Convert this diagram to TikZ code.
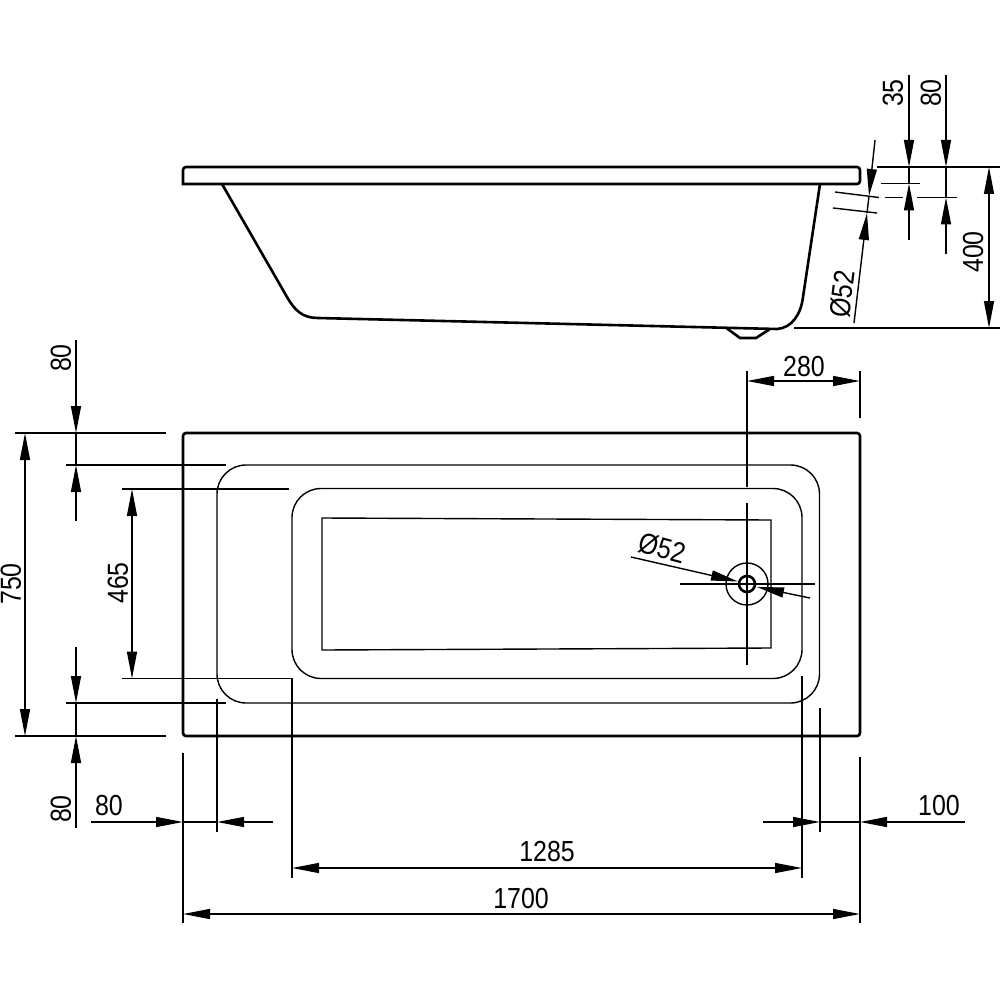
\documentclass[tikz,border=0pt]{standalone}
\usepackage{fontspec}
\setmainfont{Liberation Sans}
\usetikzlibrary{arrows.meta}
\tikzset{
  outline/.style={line width=1.3pt,rounded corners=1.5pt},
  edgeline/.style={line width=0.7pt},
  dimline/.style={line width=0.7pt,>={Triangle[length=13.5pt,width=5pt]}},
  dimlabel/.style={inner sep=0pt,font=\fontsize{14.5pt}{15pt}\selectfont,rotate=#1,xscale=0.86},
  dimlabel/.default=0
}
\begin{document}
\begin{tikzpicture}[x=0.5pt,y=-0.5pt]
    \useasboundingbox (0,0) rectangle (1000,1000);
    % side view
    \draw[line width=1.3pt] (183,184) [rounded corners=1.5pt] -- (183,167) -- (860,167) -- (860,184) [sharp corners] -- cycle;
    \draw[line width=1.3pt] (222,184) -- (287,297) .. controls (295,311) and (303,318) .. (318,318)
      -- (777,329) .. controls (792,328) and (801,314) .. (803,297) -- (820,184);
    \draw[line width=1.3pt] (727,328.5) -- (740,338) -- (756,338) -- (770,329);
    % plan view
    \draw[outline] (183,433) rectangle (860,736);
    \draw[edgeline,rounded corners=14.5pt] (217,465) rectangle (819.5,703);
    \draw[edgeline,rounded corners=14.5pt] (292,488.5) rectangle (802,678.5);
    \draw[edgeline] (322,518) -- (771,520) -- (771,648) -- (322,650) -- cycle;
    \node[circle,draw,line width=0.7pt,minimum size=21pt,inner sep=0pt] (drainOuter) at (747,584) {};
    \node[circle,draw,line width=1.3pt,minimum size=8pt,inner sep=0pt] (drainInner) at (747,584) {};
    \draw[edgeline] (680,584) -- (815,584);
    \draw[edgeline] (747,503) -- (747,665);
    % extension lines
    \draw[edgeline] (877,167) -- (1000,167);
    \draw[edgeline] (794,328) -- (1000,328);
    \draw[edgeline] (881,183.5) -- (920,183.5);
    \draw[edgeline] (885,197.5) -- (903,197.5);
    \draw[edgeline] (917,197.5) -- (957,197.5);
    \draw[edgeline] (835,192) -- (879,197.5);
    \draw[edgeline] (833,208) -- (877,213);
    \draw[edgeline] (747,371) -- (747,487);
    \draw[edgeline] (860,371) -- (860,418);
    \draw[edgeline] (15,433) -- (166,433);
    \draw[edgeline] (66,465) -- (226,465);
    \draw[edgeline] (122,489) -- (289,489);
    \draw[edgeline] (122,678.5) -- (292,678.5);
    \draw[edgeline] (66,703) -- (226,703);
    \draw[edgeline] (15,736) -- (166,736);
    \draw[edgeline] (183,753) -- (183,923);
    \draw[edgeline] (217,699) -- (217,832);
    \draw[edgeline] (292,678) -- (292,878);
    \draw[edgeline] (802,676) -- (802,878);
    \draw[edgeline] (820,708) -- (820,832);
    \draw[edgeline] (860,757) -- (860,923);
    % dimensions, side view
    \draw[dimline,->] (909,75) -- (909,167);
    \draw[dimline,->] (909,240) -- (909,183.5);
    \draw[edgeline] (909,167) -- (909,183.5);
    \draw[dimline,->] (946,75) -- (946,167);
    \draw[dimline,->] (946,254) -- (946,197.5);
    \draw[edgeline] (946,167) -- (946,197.5);
    \draw[dimline,->] (875,140) -- (869,196);
    \draw[dimline,->] (854,323) -- (867,213);
    \draw[edgeline] (869,196) -- (867,213);
    \draw[dimline,<->] (989,167) -- (989,328);
    \node[dimlabel=90] (depthRim) at (893,93) {35};
    \node[dimlabel=90] (depthLip) at (931,93) {80};
    \node[dimlabel=90] (depthTotal) at (973,252) {400};
    \node[dimlabel=83] (drainSide) at (842,294) {Ø52};
    % dimensions, plan view
    \draw[dimline,<->] (747,381) -- (860,381);
    \node[dimlabel] (drainPos) at (804,367) {280};
    \draw[dimline,->] (631,557) -- (738,581.5);
    \draw[dimline,->] (810,598) -- (757,587);
    \node[dimlabel=-15] (drainTop) at (662,548) {Ø52};
    \draw[dimline,<->] (25,433) -- (25,736);
    \node[dimlabel=90] (width) at (11,584) {750};
    \draw[dimline,<->] (132,489) -- (132,678.5);
    \node[dimlabel=90] (widthIn) at (118,583) {465};
    \draw[dimline,->] (76,340) -- (76,433);
    \draw[dimline,->] (76,521) -- (76,465);
    \draw[edgeline] (76,433) -- (76,465);
    \node[dimlabel=90] (marginTop) at (61,358) {80};
    \draw[dimline,->] (76,647) -- (76,703);
    \draw[dimline,->] (76,828) -- (76,736);
    \draw[edgeline] (76,703) -- (76,736);
    \node[dimlabel=90] (marginBottom) at (61,809) {80};
    \draw[dimline,->] (91,822) -- (183,822);
    \draw[dimline,->] (273,822) -- (217,822);
    \draw[edgeline] (183,822) -- (217,822);
    \node[dimlabel] (marginLeft) at (109,806) {80};
    \draw[dimline,->] (763,822) -- (820,822);
    \draw[dimline,->] (965,822) -- (860,822);
    \draw[edgeline] (820,822) -- (860,822);
    \node[dimlabel] (marginRight) at (939,806) {100};
    \draw[dimline,<->] (292,868) -- (802,868);
    \node[dimlabel] (lengthIn) at (547,852) {1285};
    \draw[dimline,<->] (183,914) -- (860,914);
    \node[dimlabel] (length) at (521,899) {1700};
\end{tikzpicture}
\end{document}
